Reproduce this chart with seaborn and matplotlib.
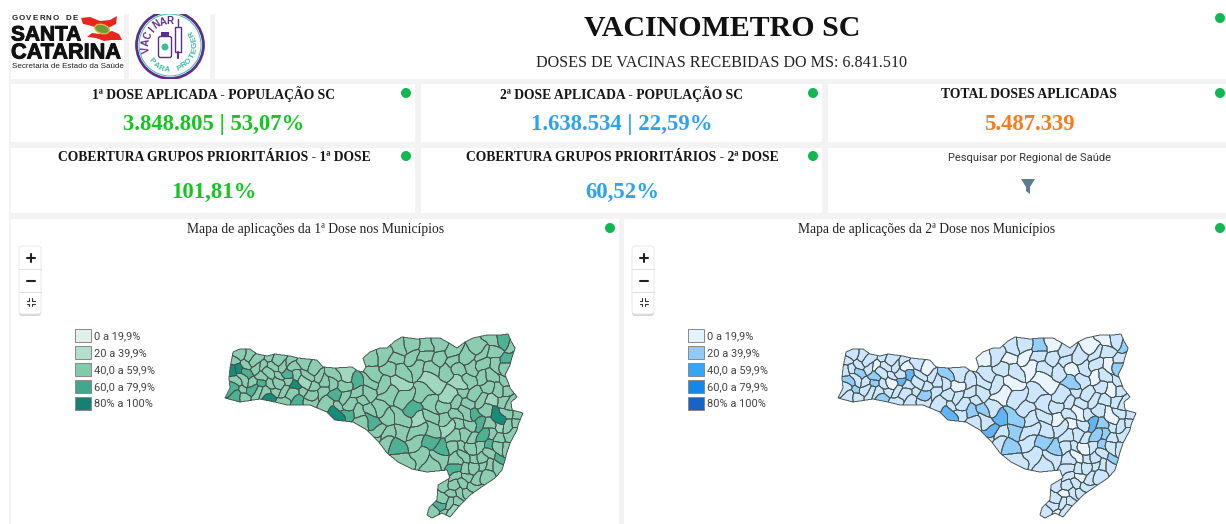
import numpy as np
import matplotlib
matplotlib.use("Agg")
import matplotlib.pyplot as plt
import matplotlib.patheffects as pe
from matplotlib import font_manager
import seaborn as sns
from matplotlib.colors import ListedColormap
from matplotlib.patches import Rectangle, Polygon, Circle, Ellipse, FancyBboxPatch
from matplotlib.path import Path

sns.set_theme(style="white")
plt.rcParams["font.family"] = ["Liberation Serif", "DejaVu Serif"]

# Texts and numbers of the dashboard
titulo = "VACINOMETRO SC"
subtitulo = "DOSES DE VACINAS RECEBIDAS DO MS: 6.841.510"
card_titulos = ["1ª DOSE APLICADA - POPULAÇÃO SC", "2ª DOSE APLICADA - POPULAÇÃO SC", "TOTAL DOSES APLICADAS",
                "COBERTURA GRUPOS PRIORITÁRIOS - 1ª DOSE", "COBERTURA GRUPOS PRIORITÁRIOS - 2ª DOSE"]
card_valores = ["3.848.805 | 53,07%", "1.638.534 | 22,59%", "5.487.339", "101,81%", "60,52%"]
card_cores = ["#12c71f", "#2aa3f0", "#fb7a1c", "#12c71f", "#2aa3f0"]
faixas = ["0 a 19,9%", "20 a 39,9%", "40,0 a 59,9%", "60,0 a 79,9%", "80% a 100%"]
legenda_verde = ["#e1f1ea", "#b3dfcb", "#83caaa", "#40a98b", "#178073"]
legenda_azul = ["#e3f2fd", "#90caf9", "#33a6f8", "#1288ea", "#1565c8"]

# Map colours actually seen on the two maps (lightest to darkest)
mapa_verde = ["#a0d7bf", "#8ccdb1", "#4fb193", "#158d79"]
mapa_azul = ["#e9f4fe", "#cde6fd", "#93cdfa", "#62b4f7"]

# Outline of the state in picture pixels
contorno = [(225, 398), (228, 392), (230, 388), (229, 378), (230, 368), (232, 358), (233, 352), (240, 349), (250, 349),
            (257, 354), (267, 356), (275, 354), (290, 356), (298, 358), (317, 360), (323, 367), (335, 368), (352, 367),
            (358, 371), (363, 372), (366, 367), (363, 358), (370, 352), (380, 348), (387, 348), (395, 341), (402, 337),
            (417, 339), (428, 338), (440, 338), (449, 343), (457, 348), (465, 342), (473, 338), (487, 335), (500, 335),
            (508, 334), (511, 341), (515, 348), (512, 357), (510, 365), (505, 375), (508, 382), (510, 388), (517, 397),
            (511, 402), (512, 410), (523, 413), (518, 425), (517, 430), (510, 443), (507, 452), (505, 460), (502, 470),
            (495, 478), (483, 486), (470, 495), (460, 505), (450, 517), (442, 513), (432, 518), (427, 515), (429, 508),
            (437, 500), (438, 485), (450, 478), (447, 470), (427, 472), (412, 469), (398, 462), (387, 453), (378, 441),
            (367, 430), (353, 422), (344, 421), (335, 420), (327, 412), (310, 405), (287, 405), (275, 402), (260, 399),
            (240, 402)]

# One point inside each drawn municipality, by region
oeste = [(238, 355), (250, 353), (236, 363), (247, 362), (258, 360), (269, 359), (280, 358), (291, 361), (241, 369),
         (233, 373), (248, 373), (257, 369), (266, 367), (275, 366), (284, 365), (296, 369), (306, 365), (316, 367),
         (235, 381), (243, 379), (252, 381), (261, 377), (270, 375), (279, 374), (288, 373), (297, 377), (307, 374),
         (318, 376), (232, 390), (241, 388), (250, 389), (259, 385), (268, 384), (277, 382), (286, 382), (293, 386),
         (303, 383), (313, 385), (324, 383), (236, 396), (246, 396), (256, 393), (265, 392), (274, 391), (283, 390),
         (292, 394), (301, 392), (311, 394), (322, 392), (272, 399), (284, 399), (300, 401), (312, 401)]
meio_oeste = [(333, 375), (347, 373), (330, 386), (343, 385), (356, 384), (334, 395), (345, 396), (356, 393), (368, 383),
              (329, 404), (340, 405), (352, 404), (364, 402), (337, 414), (349, 413), (360, 412), (372, 410), (360, 424),
              (368, 393)]
norte = [(372, 360), (385, 357), (397, 347), (410, 345), (424, 346), (438, 346), (451, 352), (476, 347), (491, 342),
         (503, 339), (510, 345), (398, 360), (412, 356), (426, 358), (440, 355), (454, 362), (467, 356), (481, 355),
         (494, 352), (507, 356), (375, 372), (390, 370), (404, 370), (418, 369), (433, 368), (447, 370), (461, 372),
         (473, 366), (485, 365), (497, 365), (507, 368)]
centro = [(382, 384), (398, 384), (430, 381), (457, 384), (469, 380), (481, 378), (492, 377),
          (503, 379), (389, 397), (405, 397), (422, 395), (450, 396), (462, 394), (474, 392), (486, 390),
          (497, 389), (507, 390), (381, 408), (415, 407), (432, 405), (446, 407), (458, 404), (470, 403),
          (482, 401), (493, 400), (504, 400), (514, 403)]
serra = [(372, 420), (386, 420), (401, 420), (417, 420), (431, 417), (444, 418), (456, 415), (467, 413), (476, 413),
         (486, 412), (498, 416), (508, 413), (517, 415), (388, 433), (378, 430), (400, 432), (417, 431), (432, 430),
         (446, 428), (458, 426), (468, 424), (478, 423), (488, 425), (497, 427), (507, 424), (515, 424), (400, 447),
         (417, 443), (432, 442), (443, 447), (385, 443), (378, 438)]
sudeste = [(455, 437), (465, 435), (474, 436), (483, 437), (492, 436), (500, 437), (510, 435), (420, 457), (440, 458),
           (455, 449), (463, 447), (472, 447), (482, 447), (491, 445), (500, 447), (508, 447), (455, 460), (464, 458),
           (473, 457), (481, 458), (490, 456), (498, 458), (403, 460), (432, 466)]
sul = [(455, 470), (464, 468), (472, 467), (480, 467), (488, 467), (496, 467), (458, 478), (468, 476), (477, 477),
       (487, 475), (447, 487), (456, 486), (465, 485), (474, 485), (442, 496), (451, 495), (460, 494), (468, 494),
       (439, 505), (448, 504), (456, 503), (433, 513), (444, 511), (451, 512)]
municipios = oeste + meio_oeste + norte + centro + serra + sudeste + sul

# Municipalities that stand out on the 1st dose map (a point in each)
dose1_clara = [(352, 375), (430, 381), (398, 384), (450, 396), (446, 428), (417, 420),
               (489, 403), (444, 383), (497, 427), (451, 512), (300, 381)]
dose1_forte = [(248, 373), (235, 388), (260, 383), (287, 370), (300, 401), (335, 398), (360, 378), (375, 423),
               (400, 447), (432, 442), (443, 447), (498, 458), (482, 437), (492, 445), (415, 407), (483, 423), (476, 413),
               (508, 340), (507, 360), (349, 413), (455, 470), (439, 505), (236, 396), (250, 389)]
dose1_maxima = [(240, 369), (233, 373), (272, 399), (292, 381), (337, 414), (498, 416)]

# The same for the 2nd dose map, given in left map pixels
dose2_branca = [(408, 362), (450, 420), (502, 413), (402, 384), (430, 381), (460, 372), (438, 346), (476, 347), (491, 342),
                (467, 413), (444, 383), (417, 369), (389, 397), (372, 360), (398, 360), (300, 368), (320, 366), (268, 367),
                (279, 382), (343, 385), (464, 458), (472, 447), (458, 426), (444, 511), (468, 476), (481, 378), (497, 365),
                (424, 346), (497, 389), (451, 495)]
dose2_media = [(246, 376), (259, 374), (239, 389), (232, 379), (273, 403), (308, 398), (329, 379), (374, 402), (360, 412),
               (400, 412), (396, 431), (401, 447), (433, 442), (443, 447), (498, 458), (493, 445), (483, 437), (457, 390),
               (495, 434), (510, 345), (422, 350), (509, 365), (258, 382), (401, 420), (488, 425)]
dose2_forte = [(299, 377), (286, 380), (377, 429), (332, 419), (476, 424), (388, 415)]


def cor_index(pontos, xs, ys, lista, base):
    # faixa of each municipality: default, then the ones read as different
    saida = np.full(len(pontos), base)
    for codigo, destaques in lista:
        for x, y in destaques:
            saida[np.argmin((xs - x) ** 2 + (ys - y) ** 2)] = codigo
    return saida


fig = plt.figure(figsize=(12.26, 5.24), dpi=100, facecolor="white")
ax = fig.add_axes([0, 0, 1, 1])
ax.set_xlim(0, 1226)
ax.set_ylim(524, 0)
ax.axis("off")


def box(x0, y0, x1, y1, cor="white", z=1):
    ax.add_patch(Rectangle((x0, y0), x1 - x0, y1 - y0, facecolor=cor, edgecolor="none", zorder=z))


def dot(x, y):
    ax.add_patch(Circle((x, y), 5, facecolor="#0fb850", edgecolor="none", zorder=3))


# Panels
box(9, 14, 1226, 524, "#f3f3f3", 0)
box(11, 14, 124, 79)
box(129, 14, 210, 79)
box(215, 0, 1226, 79)
col_x = [(11, 415), (421, 822), (828, 1226)]
lin_y = [(84, 142), (148, 213)]
for lin in lin_y:
    for col in col_x:
        box(col[0], lin[0], col[1], lin[1])
box(11, 219, 619, 524)
box(624, 219, 1226, 524)

# Header
ax.text(722.5, 26, titulo, fontsize=21.5, fontweight="bold", color="#111111", ha="center", va="center_baseline", zorder=3)
ax.text(721.5, 61, subtitulo, fontsize=11.6, color="#222222", ha="center", va="center_baseline", zorder=3)
dot(1220, 18)

# KPI cards
card_cx = [214, 622, 1029, 214, 622]
card_ty = [93, 93, 93, 156, 156]
card_vy = [122, 122, 122, 190, 190]
for i in range(5):
    ax.text(card_cx[i], card_ty[i], card_titulos[i], fontsize=9.85, fontweight="bold", color="#161616",
            ha="center", va="center_baseline", zorder=3)
    ax.text(card_cx[i], card_vy[i], card_valores[i], fontsize=16.4, fontweight="bold", color=card_cores[i],
            ha="center", va="center_baseline", zorder=3)
for x, y in [(406, 93), (813, 93), (1220, 93), (406, 156), (813, 156), (610, 228), (1220, 228)]:
    dot(x, y)

# Filter card
ax.text(1029, 157, "Pesquisar por Regional de Saúde", fontsize=8.0, family="Roboto", color="#333333",
        ha="center", va="center_baseline", zorder=3)
ax.add_patch(Polygon([(1021, 179), (1035, 179), (1030, 187), (1030, 194), (1026, 191), (1026, 187)],
                     facecolor="#5a7d91", edgecolor="none", zorder=3))

# Governo logo
peso = [pe.withStroke(linewidth=0.7, foreground="#111111")]
for i, letra in enumerate("GOVERNO DE"):
    ax.text(12 + i * 6.75, 19, letra, fontsize=5.7, family="Liberation Sans", fontweight="bold", color="#222222",
            va="center", zorder=3)
ax.text(11, 35, "SANTA", fontsize=15, family="Liberation Sans", fontweight="bold", color="#111111",
        va="center", zorder=3, path_effects=peso)
ax.text(11, 53, "CATARINA", fontsize=15.6, family="Liberation Sans", fontweight="bold", color="#111111",
        va="center", zorder=3, path_effects=peso)
fontes = {f.name for f in font_manager.fontManager.ttflist}
if "Liberation Sans Narrow" in fontes:
    ax.text(12, 66, "Secretaria de Estado da Saúde", fontsize=7.1, family="Liberation Sans Narrow", color="#222222",
            va="center", zorder=3)
else:
    ax.text(12, 66, "Secretaria de Estado da Saúde", fontsize=5.8, family="Liberation Sans", color="#222222",
            va="center", zorder=3)
ax.add_patch(Polygon([(81, 18), (90, 17), (100, 21), (110, 20), (117, 16), (116, 24), (108, 28), (98, 28), (88, 25), (83, 24)],
                     facecolor="#e8261f", edgecolor="none", zorder=3))
ax.add_patch(Polygon([(87, 37), (92, 33), (100, 34), (112, 31), (119, 34), (122, 40), (112, 40), (104, 41), (96, 38)],
                     facecolor="#e8261f", edgecolor="none", zorder=3))
ax.add_patch(Ellipse((102, 29), 15, 9, angle=15, facecolor="#6f9a3a", edgecolor="#d9b840", lw=1, zorder=4))

# Vacinar logo
roxo = "#5b2d8c"
verde_logo = "#3fb9a0"
lx, ly = 170, 45
clip_logo = Rectangle((129, 14), 81, 65, transform=ax.transData)
anel = Circle((lx, ly), 33.5, facecolor="none", edgecolor=roxo, lw=2, zorder=3)
ax.add_patch(anel)
anel.set_clip_path(clip_logo)
anel2 = Circle((lx, ly), 31, facecolor="none", edgecolor=verde_logo, lw=0.7, zorder=3)
ax.add_patch(anel2)
anel2.set_clip_path(clip_logo)
for i, letra in enumerate("VACINAR"):
    a = np.radians(191 - i * 17)
    ax.text(lx + 24 * np.cos(a), ly - 24 * np.sin(a), letra, fontsize=7, family="Liberation Sans", fontweight="bold",
            color=roxo, rotation=np.degrees(a) - 90, ha="center", va="center", zorder=3)
for i, letra in enumerate("PARA PROTEGER"):
    a = np.radians(221 + i * 14)
    ax.text(lx + 25 * np.cos(a), ly - 25 * np.sin(a), letra, fontsize=5.8, family="Liberation Sans", fontweight="bold",
            color=verde_logo, rotation=np.degrees(a) + 90, ha="center", va="center", zorder=3)
ax.add_patch(FancyBboxPatch((159, 37), 12, 20, boxstyle="round,pad=0.5,rounding_size=2", facecolor="white",
                            edgecolor=roxo, lw=1, zorder=3))
box(161, 32, 169, 36, roxo, 3)
ax.add_patch(Circle((165, 47), 3.5, facecolor=verde_logo, edgecolor="none", zorder=4))
ax.add_patch(Rectangle((174.5, 27), 6, 25, facecolor="white", edgecolor=roxo, lw=1, zorder=3))
ax.plot([177.5, 177.5], [19, 27], color=roxo, lw=1, zorder=3)
ax.plot([177.5, 177.5], [52, 58], color=roxo, lw=1.5, zorder=3)

# Maps
pontos = np.array(municipios, dtype=float)
mx, my = pontos[:, 0], pontos[:, 1]
x0, x1, y0, y1 = 221, 527, 330, 522
passo = 0.5
gx = np.arange(x0, x1, passo) + passo / 2
gy = np.arange(y0, y1, passo) + passo / 2
GX, GY = np.meshgrid(gx, gy)
dentro = Path(contorno).contains_points(np.column_stack([GX.ravel(), GY.ravel()])).reshape(GX.shape)
# bend the cell borders a little so they are not straight lines
WX = GX + 2.2 * np.sin(GY / 6.3) + 1.3 * np.sin((GX + GY) / 3.7)
WY = GY + 2.2 * np.sin(GX / 5.1) + 1.3 * np.sin((GX - GY) / 4.3)
dist = (WX[:, :, None] - mx) ** 2 + (WY[:, :, None] - my) ** 2
rotulo = dist.argmin(axis=2)
rotulo[~dentro] = -1

mapas = [
    dict(dx=0, cores=mapa_verde, base=1, extra=[(0, dose1_clara), (2, dose1_forte), (3, dose1_maxima)],
         legenda=legenda_verde, nome="Mapa de aplicações da 1ª Dose nos Municípios", cx=315.5),
    dict(dx=613, cores=mapa_azul, base=1, extra=[(0, dose2_branca), (2, dose2_media), (3, dose2_forte)],
         legenda=legenda_azul, nome="Mapa de aplicações da 2ª Dose nos Municípios", cx=927),
]

for m in mapas:
    dx = m["dx"]
    ax.text(m["cx"], 228, m["nome"], fontsize=9.8, color="#222222", ha="center", va="center_baseline", zorder=3)

    # zoom buttons
    ax.add_patch(FancyBboxPatch((19 + dx, 247), 22, 69, boxstyle="round,pad=0,rounding_size=3", facecolor="#bbbbbb",
                                edgecolor="none", alpha=0.6, zorder=2))
    ax.add_patch(FancyBboxPatch((19 + dx, 246), 22, 68, boxstyle="round,pad=0,rounding_size=3", facecolor="white",
                                edgecolor="#e6e6e6", lw=0.6, zorder=3))
    ax.plot([19 + dx, 41 + dx], [269, 269], color="#dddddd", lw=0.7, zorder=4)
    ax.plot([19 + dx, 41 + dx], [292, 292], color="#dddddd", lw=0.7, zorder=4)
    ax.plot([26.5 + dx, 34.5 + dx], [258, 258], color="#222222", lw=1.5, zorder=4)
    ax.plot([30.5 + dx, 30.5 + dx], [254, 262], color="#222222", lw=1.5, zorder=4)
    ax.plot([26.5 + dx, 34.5 + dx], [281, 281], color="#222222", lw=1.5, zorder=4)
    for sx, sy in [(-1, -1), (1, -1), (-1, 1), (1, 1)]:
        cx_b, cy_b = 30.5 + dx + sx * 1.5, 302 + sy * 1.5
        ax.plot([cx_b, cx_b + sx * 2.5], [cy_b, cy_b], color="#333333", lw=0.8, zorder=4)
        ax.plot([cx_b, cx_b], [cy_b, cy_b + sy * 2.5], color="#333333", lw=0.8, zorder=4)

    # legend
    for i, faixa in enumerate(faixas):
        yc = 335 + 17 * i
        ax.add_patch(Rectangle((74.5 + dx, yc - 6.5), 16, 13, facecolor=m["legenda"][i], edgecolor="#888888",
                               lw=0.7, zorder=3))
        ax.text(94 + dx, yc, faixa, fontsize=7.95, family="Roboto", color="#444444", va="center_baseline", zorder=3)

    # municipalities, drawn as a heatmap of the nearest municipality
    codigo = cor_index(pontos, mx, my, m["extra"], m["base"])
    valores = np.where(rotulo >= 0, codigo[rotulo], 0)
    left = (x0 + dx) / 1226
    bottom = 1 - y1 / 524
    mapa_ax = fig.add_axes([left, bottom, (x1 - x0) / 1226, (y1 - y0) / 524], zorder=5)
    mapa_ax.patch.set_alpha(0)
    sns.heatmap(valores, mask=rotulo < 0, cmap=ListedColormap(m["cores"]), vmin=-0.5, vmax=3.5, cbar=False,
                xticklabels=False, yticklabels=False, ax=mapa_ax)
    cx_g = np.arange(valores.shape[1]) + 0.5
    cy_g = np.arange(valores.shape[0]) + 0.5
    for k in np.unique(rotulo[rotulo >= 0]):
        mapa_ax.contour(cx_g, cy_g, (rotulo == k).astype(float), levels=[0.5], colors="#46544f", linewidths=0.65)
    mapa_ax.axis("off")

fig.savefig("out.png", dpi=100)
